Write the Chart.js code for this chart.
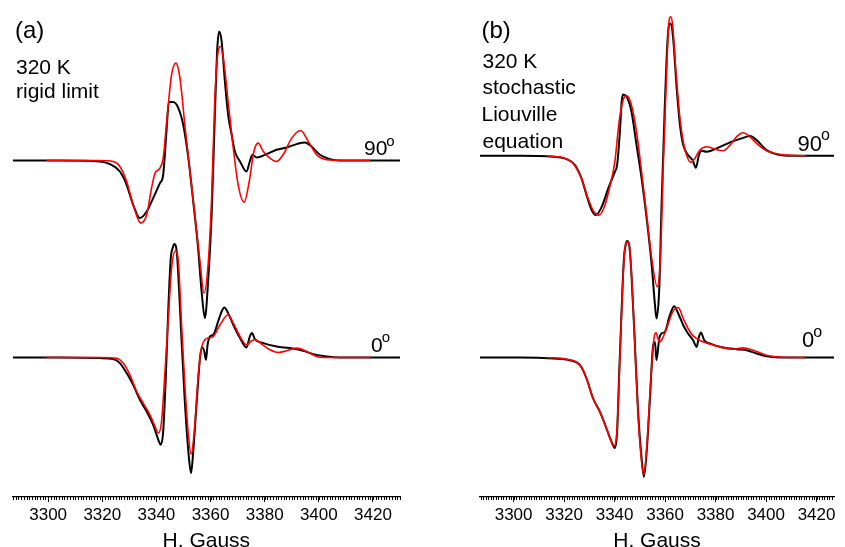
<!DOCTYPE html>
<html>
<head>
<meta charset="utf-8">
<script src="https://cdn.jsdelivr.net/npm/chart.js@4/dist/chart.umd.min.js"></script>
<style>
  html, body { margin: 0; padding: 0; background: #fff; overflow: hidden; }
  #wrap { position: relative; width: 845px; height: 547px; }
  canvas { position: absolute; top: 0; }
  #panelA { left: 0; }
  #panelB { left: 422px; }
</style>
</head>
<body>
<div id="wrap">
  <canvas id="panelA" width="422" height="547"></canvas>
  <canvas id="panelB" width="423" height="547"></canvas>
</div>
<script>
// EPR first-derivative spectra, [field (G), signal (arb. units)] pairs.
// (a) rigid-limit simulation, 320 K
const a90Exp = [[3286.9,0],[3304.4,0],[3319.1,-1],[3322.8,-3.6],[3326.5,-11],[3329.0,-24.3],[3331.4,-44.3],[3333.9,-57.6],[3336.4,-51],[3338.8,-37.6],[3341.3,-22.6],[3342.5,-14.3],[3343.8,32.4],[3344.6,58.4],[3346.2,58.4],[3348.1,52.4],[3349.9,35.7],[3351.8,2.4],[3353.6,-41],[3355.4,-87.6],[3356.7,-131],[3357.9,-157.6],[3359.1,-121],[3360.4,-54.3],[3361.6,45.7],[3362.5,112.4],[3363.2,129],[3364.1,119],[3365.3,79],[3366.5,45.7],[3367.8,25.7],[3369.0,9],[3370.9,-1],[3373.3,-11],[3374.5,-1],[3375.5,5.7],[3377.0,3],[3380.7,6.4],[3384.4,10.7],[3388.1,13],[3391.8,16.4],[3394.9,18],[3397.3,14],[3400.4,5.7],[3404.1,1.4],[3407.8,0],[3430.0,0]];
const a90Sim = [[3299.4,0],[3319.1,0],[3324.0,-1],[3326.5,-6],[3329.0,-21],[3331.4,-44.3],[3334.2,-62.6],[3336.4,-54.3],[3338.2,-27.6],[3339.5,-12.6],[3341.3,-7.6],[3342.5,2.4],[3343.8,39],[3345.6,85.7],[3347.2,97.4],[3348.7,82.4],[3350.5,35.7],[3352.4,-11],[3354.2,-54.3],[3356.1,-101],[3357.6,-132.6],[3359.1,-104.3],[3360.4,-37.6],[3361.6,62.4],[3362.8,109],[3363.7,114],[3364.9,99],[3366.5,59],[3368.4,12.4],[3370.2,-24.3],[3372.4,-41.6],[3374.3,-21],[3376.0,9],[3377.6,17.4],[3379.5,9],[3381.9,2.4],[3384.4,-1],[3386.8,5.7],[3390.0,22.4],[3393.3,30],[3396.1,19],[3399.2,5.7],[3402.9,0.7],[3407.8,0],[3418.9,0]];
const a0Exp = [[3286.9,0],[3304.4,0],[3319.1,-0.6],[3324.0,-1.6],[3326.5,-5.6],[3329.0,-15.6],[3331.4,-27.3],[3333.9,-42.3],[3336.4,-54],[3338.8,-67.3],[3340.7,-82.3],[3341.6,-87.3],[3342.5,-74],[3343.5,-17.3],[3344.4,49.4],[3345.3,99.4],[3346.0,109.4],[3346.6,113.4],[3347.5,106],[3348.4,66],[3349.3,16],[3350.5,-44],[3351.8,-94],[3352.8,-115.6],[3353.6,-94],[3354.9,-44],[3356.1,-0.6],[3356.9,10],[3357.7,6],[3358.3,-2.3],[3358.9,12.7],[3359.8,21],[3361.0,22.7],[3362.8,36],[3364.1,46],[3365.1,50],[3366.5,44.4],[3368.4,32.7],[3370.9,19.4],[3373.3,10],[3374.5,21],[3375.3,24.4],[3376.4,18.4],[3379.5,14.4],[3384.4,11],[3389.3,9.4],[3394.2,6.7],[3397.9,3.4],[3402.9,1],[3407.8,0],[3430.0,0]];
const a0Sim = [[3299.4,0],[3319.1,0],[3325.3,-0.7],[3327.7,-5.6],[3330.2,-17.3],[3332.7,-34],[3335.1,-45.6],[3337.6,-57.3],[3339.5,-69],[3340.7,-75.6],[3341.9,-64],[3343.1,-17.3],[3344.4,39.4],[3345.6,89.4],[3347.1,106.7],[3348.1,96],[3349.3,32.7],[3350.5,-27.3],[3351.8,-77.3],[3352.8,-96.6],[3354.0,-74],[3355.2,-27.3],[3356.4,6],[3357.9,17.7],[3359.1,19.4],[3361.0,21],[3363.5,32.7],[3366.5,42.7],[3368.4,34.4],[3370.9,21],[3373.3,12.7],[3375.2,16.7],[3376.4,17.7],[3378.9,13.4],[3381.9,7.7],[3385.0,5],[3388.1,6.7],[3391.8,9.4],[3395.5,6],[3399.2,1],[3402.9,0],[3418.9,0]];

// (b) stochastic Liouville equation simulation, 320 K
const b90Exp = [[3286.7,0],[3302.5,0],[3315.7,-1],[3321.0,-3.3],[3324.3,-9.3],[3326.9,-22.6],[3328.9,-39.3],[3330.9,-54.3],[3332.6,-59.3],[3334.9,-51],[3337.5,-32.6],[3340.1,-16],[3341.0,-9.3],[3342.1,24],[3342.8,54],[3343.4,61.4],[3344.8,59],[3346.7,44],[3348.7,10.7],[3350.7,-22.6],[3352.7,-62.6],[3354.7,-109.3],[3356.0,-149.3],[3356.6,-162.6],[3357.7,-132.6],[3358.6,-49.3],[3359.9,50.7],[3361.2,124],[3362.2,132.4],[3363.2,117.4],[3364.6,67.4],[3365.9,30.7],[3367.2,10.7],[3369.1,0.7],[3370.9,-4.3],[3372.2,-12],[3373.4,0.7],[3374.5,5],[3376.4,4],[3380.4,7.4],[3385.7,13.4],[3390.3,17.4],[3393.6,19.7],[3396.2,15.7],[3400.2,5.7],[3404.2,1.4],[3408.1,0],[3426.9,0]];
const b90Sim = [[3313.1,0],[3319.6,-2],[3323.6,-7.6],[3326.9,-22.6],[3329.5,-42.6],[3331.8,-56],[3333.9,-59.3],[3336.2,-49.3],[3338.1,-31],[3340.1,-6],[3341.8,34],[3343.4,55.7],[3344.8,60],[3346.7,50.7],[3348.7,24],[3350.7,-16],[3352.7,-59.3],[3354.7,-102.6],[3356.9,-131],[3358.2,-99.3],[3359.2,-16],[3360.6,84],[3361.5,134],[3362.2,139],[3363.0,130.7],[3364.3,84],[3365.9,37.4],[3367.2,14],[3368.5,0.7],[3370.1,-6.6],[3371.8,-2.6],[3373.8,5.7],[3376.4,9],[3379.7,6.7],[3383.0,5],[3385.7,10.7],[3388.3,19],[3390.9,23],[3393.6,19],[3396.2,12.4],[3400.2,5],[3405.5,1.4],[3415.4,0]];
const b0Exp = [[3286.7,0],[3302.5,0],[3315.7,-1],[3322.3,-2.7],[3326.3,-7.7],[3328.9,-21],[3331.5,-41],[3334.2,-54.4],[3336.8,-71],[3338.8,-84.4],[3340.1,-90.4],[3341.0,-74.4],[3341.8,-17.7],[3342.8,49],[3343.7,99],[3344.5,114],[3345.0,116.6],[3345.8,112.3],[3346.7,82.3],[3348.0,15.6],[3349.3,-54.4],[3350.7,-101],[3351.6,-119.4],[3352.7,-94.4],[3354.0,-41],[3355.3,12.3],[3356.0,15.6],[3356.6,-2.7],[3357.7,19],[3358.6,24],[3359.9,25.6],[3361.9,42.3],[3363.6,51.3],[3365.2,44],[3367.2,32.3],[3369.1,24],[3371.1,17.3],[3372.5,10.6],[3373.4,20.6],[3374.2,25],[3375.5,17.3],[3378.4,13.3],[3383.0,10],[3388.3,8.3],[3392.3,7.3],[3396.2,4],[3400.2,1.3],[3408.1,0],[3426.9,0]];
const b0Sim = [[3313.1,0],[3321.0,-1.7],[3326.3,-7.7],[3328.9,-21],[3331.5,-41],[3334.2,-54.4],[3336.8,-71],[3338.8,-84.4],[3339.8,-88.4],[3341.0,-71],[3342.1,-1],[3343.2,72.3],[3344.1,109],[3345.0,115.6],[3346.1,105.6],[3347.4,49],[3348.7,-24.4],[3350.0,-84.4],[3351.6,-117],[3352.9,-84.4],[3354.3,-24.4],[3355.6,19],[3356.4,24.6],[3357.7,15.6],[3358.6,17.3],[3360.6,29],[3363.0,45.6],[3365.2,50],[3367.2,39],[3369.1,29],[3371.1,21.6],[3374.5,16.3],[3378.4,13],[3383.0,9.6],[3387.0,8.3],[3390.9,9.6],[3394.9,7.3],[3400.2,2.3],[3406.8,0.3],[3415.4,0]];

// Field tick labels and axis ranges (G)
const fieldTicks = [3300, 3320, 3340, 3360, 3380, 3400, 3420];
const fieldRangeA = [3286.9, 3430.0];
const fieldRangeB = [3286.7, 3426.9];
// Vertical stacking offset of the 90° spectra above the 0° spectra
const offsetA90 = 197;
const offsetB90 = 201.7;
const signalRange = [-139.5, 357.5];

const FONT = '"Liberation Sans", Arial, Helvetica, sans-serif';
Chart.defaults.font.family = FONT;
Chart.defaults.color = '#000';

function toPoints(pairs, offset) {
  return pairs.map(p => ({ x: p[0], y: p[1] + offset }));
}

function trace(label, pairs, offset, color, width, order) {
  return {
    label: label,
    data: toPoints(pairs, offset),
    borderColor: color,
    borderWidth: width,
    pointRadius: 0,
    fill: false,
    cubicInterpolationMode: 'monotone',
    order: order
  };
}

// Minor field ticks every 1 G plus the text annotations of a panel
function panelDecor(texts) {
  return {
    id: 'panelDecor',
    afterDraw(chart) {
      const ctx = chart.ctx;
      const sx = chart.scales.x;
      ctx.save();
      ctx.strokeStyle = '#000';
      ctx.lineWidth = 1;
      ctx.beginPath();
      for (let v = Math.ceil(sx.min); v <= sx.max; v++) {
        const px = Math.round(sx.getPixelForValue(v)) + 0.5;
        ctx.moveTo(px, sx.top);
        ctx.lineTo(px, sx.top + 3);
      }
      ctx.stroke();
      ctx.fillStyle = '#000';
      ctx.textBaseline = 'alphabetic';
      ctx.textAlign = 'left';
      texts.forEach(t => {
        ctx.font = t.size + 'px ' + FONT;
        ctx.fillText(t.text, t.x, t.y);
        if (t.sup) {
          const w = ctx.measureText(t.text).width;
          ctx.font = t.supSize + 'px ' + FONT;
          ctx.fillText(t.sup, t.x + w + t.supDx, t.supY);
        }
      });
      ctx.restore();
    }
  };
}

function makePanel(id, range, padding, datasets, texts) {
  return new Chart(document.getElementById(id), {
    type: 'line',
    data: { datasets: datasets },
    options: {
      responsive: false,
      animation: false,
      events: [],
      layout: { padding: padding },
      plugins: { legend: { display: false }, tooltip: { enabled: false } },
      scales: {
        x: {
          type: 'linear',
          min: range[0],
          max: range[1],
          afterBuildTicks: s => { s.ticks = fieldTicks.map(v => ({ value: v })); },
          afterFit: s => { s.height = 50; },
          ticks: {
            autoSkip: false,
            maxRotation: 0,
            padding: 3,
            font: { size: 17 },
            color: '#000',
            callback: v => String(v)
          },
          grid: { display: true, drawOnChartArea: false, drawTicks: true, tickLength: 5, color: '#000', lineWidth: 1 },
          border: { display: true, color: '#000', width: 1.3 },
          title: {
            display: true,
            text: 'H. Gauss',
            color: '#000',
            font: { size: 21, lineHeight: 1 },
            padding: { top: 0, bottom: -5 }
          }
        },
        y: { type: 'linear', display: false, min: signalRange[0], max: signalRange[1] }
      }
    },
    plugins: [panelDecor(texts)]
  });
}

const RED = '#ff0000';
const BLACK = '#000000';

makePanel('panelA', fieldRangeA, { left: 12.7, right: 22, top: 0, bottom: 0 }, [
  trace('rigid limit 90°', a90Sim, offsetA90, RED, 1.6, 0),
  trace('rigid limit 0°', a0Sim, 0, RED, 1.6, 0),
  trace('experiment 90°', a90Exp, offsetA90, BLACK, 2, 1),
  trace('experiment 0°', a0Exp, 0, BLACK, 2, 1)
], [
  { text: '(a)', x: 15, y: 37.5, size: 24 },
  { text: '320 K', x: 16, y: 74, size: 21 },
  { text: 'rigid limit', x: 16, y: 98, size: 21 },
  { text: '90', x: 364, y: 155, size: 21, sup: 'o', supSize: 15, supDx: -1, supY: 146 },
  { text: '0', x: 371, y: 351.5, size: 21, sup: 'o', supSize: 15, supDx: -1, supY: 341.5 }
]);

makePanel('panelB', fieldRangeB, { left: 58, right: 11, top: 0, bottom: 0 }, [
  trace('stochastic Liouville 90°', b90Sim, offsetB90, RED, 1.6, 0),
  trace('stochastic Liouville 0°', b0Sim, 0, RED, 1.6, 0),
  trace('experiment 90°', b90Exp, offsetB90, BLACK, 2, 1),
  trace('experiment 0°', b0Exp, 0, BLACK, 2, 1)
], [
  { text: '(b)', x: 59.5, y: 37.5, size: 24 },
  { text: '320 K', x: 60.5, y: 68.3, size: 21 },
  { text: 'stochastic', x: 60.5, y: 93.5, size: 21 },
  { text: 'Liouville', x: 59.5, y: 121, size: 21 },
  { text: 'equation', x: 60.5, y: 148, size: 21 },
  { text: '90', x: 375.5, y: 151, size: 22, sup: 'o', supSize: 16, supDx: -1, supY: 140 },
  { text: '0', x: 380, y: 346.5, size: 22, sup: 'o', supSize: 16, supDx: -1, supY: 336.5 }
]);
</script>
</body>
</html>
